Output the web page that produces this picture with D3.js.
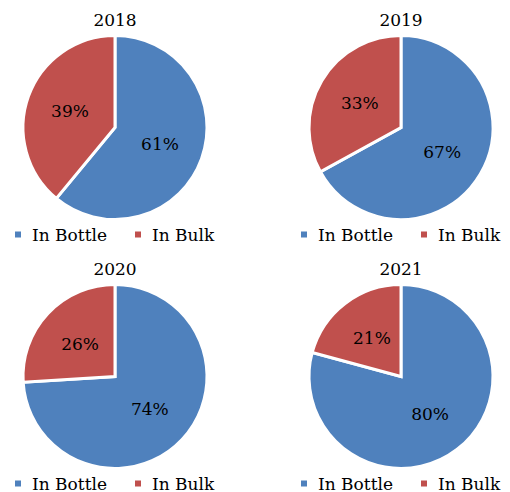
<!DOCTYPE html>
<html>
<head>
<meta charset="utf-8">
<script src="https://cdn.jsdelivr.net/npm/d3@7"></script>
<style>
  body { margin: 0; background: #fff; }
  text { font-family: "DejaVu Serif", "Liberation Serif", serif; fill: #000; }
</style>
</head>
<body>
<svg id="chart" width="510" height="492"></svg>
<script>
// Data
const years = ['2018', '2019', '2020', '2021'];
const categories = ['In Bottle', 'In Bulk'];
const bottleShare = [61, 67, 74, 80];
const bulkShare = [39, 33, 26, 21];

const colors = d3.scaleOrdinal()
    .domain(categories)
    .range(['#4F81BD', '#C0504D']);

const svg = d3.select('#chart');

// 2x2 grid of panels
const colX = d3.scalePoint().domain([0, 1]).range([115, 401]);
const rowY = d3.scalePoint().domain([0, 1]).range([127.5, 376.5]);
const radius = 92;

const pie = d3.pie().sort(null).value(d => d.value);
const arc = d3.arc().innerRadius(0).outerRadius(radius);
const labelArc = d3.arc().innerRadius(radius * 0.52).outerRadius(radius * 0.52);

years.forEach((year, i) => {
    const cx = colX(i % 2);
    const cy = rowY(Math.floor(i / 2));
    const slices = [
        { name: categories[0], value: bottleShare[i] },
        { name: categories[1], value: bulkShare[i] }
    ];

    const g = svg.append('g')
        .attr('transform', `translate(${cx},${cy})`);

    const arcs = pie(slices);

    g.selectAll('path')
        .data(arcs)
        .enter()
        .append('path')
        .attr('d', arc)
        .attr('fill', d => colors(d.data.name))
        .attr('stroke', '#fff')
        .attr('stroke-width', 3)
        .attr('stroke-linejoin', 'miter');

    g.selectAll('.pct')
        .data(arcs)
        .enter()
        .append('text')
        .attr('class', 'pct')
        .attr('transform', d => `translate(${labelArc.centroid(d)})`)
        .attr('text-anchor', 'middle')
        .attr('dy', '0.35em')
        .style('font-size', '17px')
        .text(d => d.data.value + '%');

    // title
    g.append('text')
        .attr('x', 0)
        .attr('y', -radius - 10)
        .attr('text-anchor', 'middle')
        .style('font-size', '17px')
        .text(year);

    // legend
    const legend = g.selectAll('.legend')
        .data(categories)
        .enter()
        .append('g')
        .attr('class', 'legend')
        .attr('transform', (d, k) => `translate(${-97 + k * 120},${radius + 21})`);

    legend.append('rect')
        .attr('x', -3)
        .attr('y', -9)
        .attr('width', 6)
        .attr('height', 6)
        .attr('fill', d => colors(d));

    legend.append('text')
        .attr('x', 14)
        .attr('y', 0)
        .style('font-size', '17px')
        .text(d => d);
});
</script>
</body>
</html>
